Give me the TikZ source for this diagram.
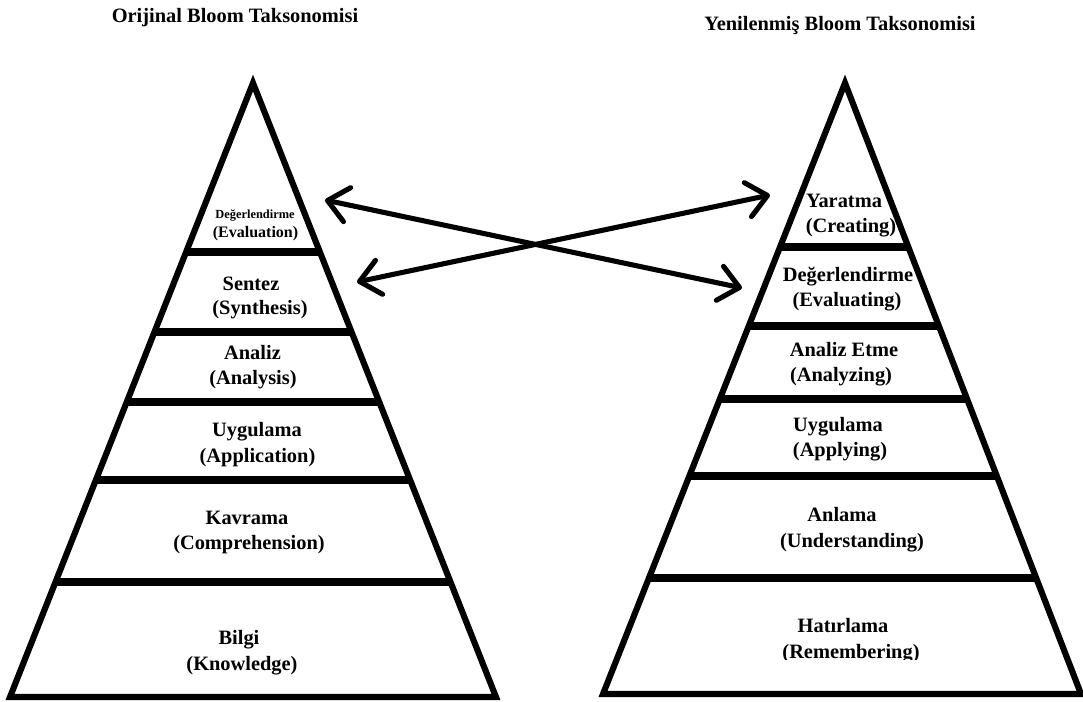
\documentclass[tikz,border=0pt]{standalone}
\usepackage{fontspec}
\setmainfont{Liberation Serif}
\usetikzlibrary{arrows.meta,calc}
\begin{document}
\begin{tikzpicture}[x=0.75pt,y=-0.75pt,
  tri/.style={line width=4.6pt,line join=miter},
  band/.style={line width=6pt},
  lbl/.style={font=\fontsize{15.3}{18}\selectfont\bfseries,anchor=base,inner sep=0pt},
  small/.style={font=\fontsize{9.3}{11}\selectfont\bfseries,anchor=base,inner sep=0pt},
  mid/.style={font=\fontsize{12}{14}\selectfont\bfseries,anchor=base,inner sep=0pt},
  barb/.tip={Straight Barb[length=15pt,width=26pt,round]},
  arr/.style={line width=3.8pt,barb-barb}]
\useasboundingbox (0,0) rectangle (1083,702);
% titles
\node[lbl] (t1) at (235,23) {Orijinal Bloom Taksonomisi};
\node[lbl] (t2) at (840,31) {Yenilenmiş Bloom Taksonomisi};
% left pyramid
\coordinate (LA) at (253,83);
\coordinate (LBL) at (10,697);
\coordinate (LBR) at (496,697);
\begin{scope}
  \clip (LA) -- (LBL) -- (LBR) -- cycle;
  \foreach \y in {252,332,402,480,582} \draw[band] (0,\y) -- (541,\y);
\end{scope}
\draw[tri] (LA) -- (LBL) -- (LBR) -- cycle;
% right pyramid
\coordinate (RA) at (845,83);
\coordinate (RBL) at (603,694);
\coordinate (RBR) at (1081,694);
\begin{scope}
  \clip (RA) -- (RBL) -- (RBR) -- cycle;
  \foreach \y in {247,326,399,476,578} \draw[band] (541,\y) -- (1083,\y);
\end{scope}
\draw[tri] (RA) -- (RBL) -- (RBR) -- cycle;
% left labels
\node[small] (l1a) at (255,219) {Değerlendirme};
\node[mid] (l1b) at (255.5,238) {(Evaluation)};
\node[lbl] (l2a) at (251,291) {Sentez};
\node[lbl] (l2b) at (260,315) {(Synthesis)};
\node[lbl] (l3a) at (252.5,360) {Analiz};
\node[lbl] (l3b) at (253,385) {(Analysis)};
\node[lbl] (l4a) at (257,437) {Uygulama};
\node[lbl] (l4b) at (257.5,463) {(Application)};
\node[lbl] (l5a) at (247,525) {Kavrama};
\node[lbl] (l5b) at (249,550) {(Comprehension)};
\node[lbl] (l6a) at (239,644) {Bilgi};
\node[lbl] (l6b) at (242,670) {(Knowledge)};
% right labels
\node[lbl] (r1a) at (844,208) {Yaratma};
\node[lbl] (r1b) at (851,233) {(Creating)};
\node[lbl] (r2a) at (848,282) {Değerlendirme};
\node[lbl] (r2b) at (847,307) {(Evaluating)};
\node[lbl] (r3a) at (844,357) {Analiz Etme};
\node[lbl] (r3b) at (841,382) {(Analyzing)};
\node[lbl] (r4a) at (838,432) {Uygulama};
\node[lbl] (r4b) at (840,457) {(Applying)};
\node[lbl] (r5a) at (842,522) {Anlama};
\node[lbl] (r5b) at (852,547) {(Understanding)};
\node[lbl] (r6a) at (843,632) {Hatırlama};
\begin{scope}
  \clip (700,600) rectangle (1000,659);
  \node[lbl] (r6b) at (851,658) {(Remembering)};
\end{scope}
% arrows
\coordinate (a1s) at (325,200);
\coordinate (a1e) at (742,288);
\coordinate (a2s) at (357,282);
\coordinate (a2e) at (770,195);
\draw[arr] (a1s) -- (a1e);
\draw[arr] (a2s) -- (a2e);
\end{tikzpicture}
\end{document}
